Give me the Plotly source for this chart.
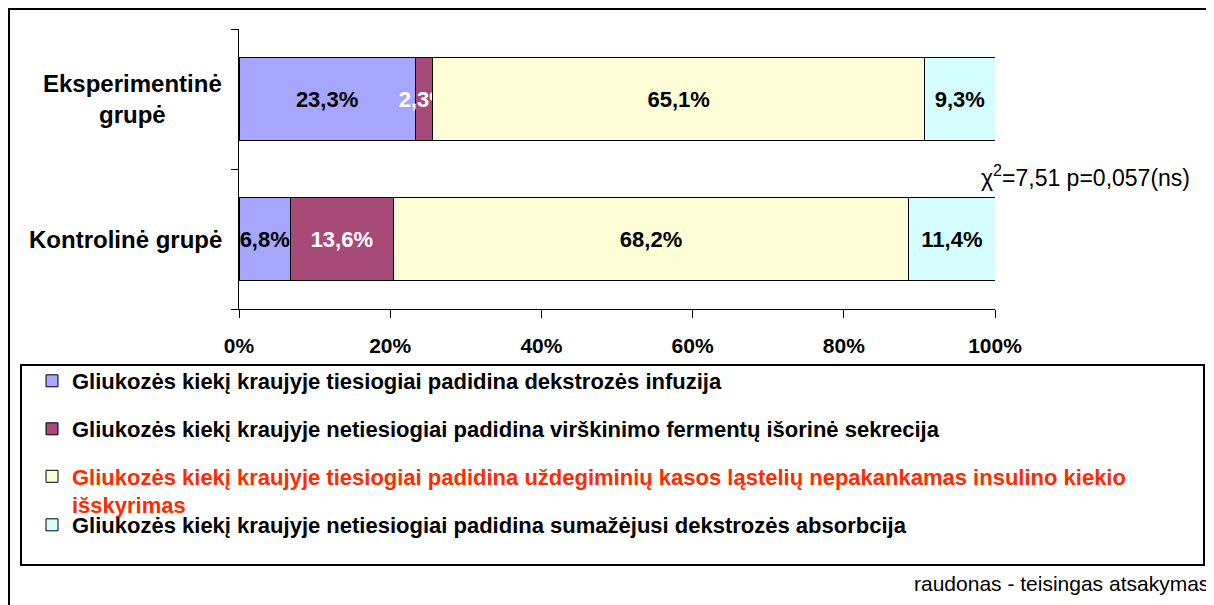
import plotly.graph_objects as go

categories = ["Kontrolinė grupė", "Eksperimentinė grupė"]
category_labels = ["Kontrolinė grupė", "Eksperimentinė<br>grupė"]

series_names = [
    "Gliukozės kiekį kraujyje tiesiogiai padidina dekstrozės infuzija",
    "Gliukozės kiekį kraujyje netiesiogiai padidina virškinimo fermentų išorinė sekrecija",
    "Gliukozės kiekį kraujyje tiesiogiai padidina uždegiminių kasos ląstelių nepakankamas insulino kiekio<br>išskyrimas",
    "Gliukozės kiekį kraujyje netiesiogiai padidina sumažėjusi dekstrozės absorbcija",
]
# values per series: [Kontrolinė, Eksperimentinė]
s1 = [6.8, 23.3]
s2 = [13.6, 2.3]
s3 = [68.2, 65.1]
s4 = [11.4, 9.3]
series_values = [s1, s2, s3, s4]

tick_vals = [0, 20, 40, 60, 80, 100]
tick_text = ["0%", "20%", "40%", "60%", "80%", "100%"]

colors = ["#A6A6FF", "#A84A77", "#FFFDD5", "#D5FFFF"]
text_colors = ["black", "white", "black", "black"]
legend_text_colors = ["black", "black", "#FF2A00", "black"]

ARIAL = "Liberation Sans, Arial, sans-serif"

# page has an 8px body margin; figure sized to fit the window
OFF = 8
W, H = 1214 - OFF, 605 - OFF
L, R, T, B = 239 - OFF, 219, 29 - OFF, 296
PW = W - L - R
PH = H - T - B


def px_x(p):
    """page pixel x -> paper x"""
    return (p - OFF - L) / PW


def px_y(p):
    """page pixel y -> paper y"""
    return (H - B - (p - OFF)) / PH


fig = go.Figure()
legend_keys = ["legend", "legend2", "legend3", "legend4"]
for i, (name, vals) in enumerate(zip(series_names, series_values)):
    fig.add_trace(go.Bar(
        y=categories, x=vals, orientation="h", name=name,
        marker=dict(color=colors[i], line=dict(color="black", width=1)),
        text=[f"{v:.1f}".replace(".", ",") + "%" for v in vals],
        textposition="inside", insidetextanchor="middle",
        textangle=0, constraintext="none",
        textfont=dict(family=ARIAL, size=22, color=text_colors[i], weight="bold"),
        legend=legend_keys[i], hoverinfo="skip",
    ))

legend_centers = [381, 429, 491, 525]
legend_common = dict(
    x=px_x(32), xanchor="left", yanchor="middle",
    bgcolor="rgba(0,0,0,0)", borderwidth=0, valign="top",
)
layout_legends = {}
for i, key in enumerate(legend_keys):
    layout_legends[key] = dict(
        y=px_y(legend_centers[i]),
        font=dict(family=ARIAL, size=22, color=legend_text_colors[i], weight="bold"),
        **legend_common,
    )

fig.update_layout(
    width=W, height=H,
    margin=dict(l=L, r=R, t=T, b=B, pad=0),
    paper_bgcolor="white", plot_bgcolor="white",
    barmode="stack", bargap=0.41,
    showlegend=True,
    xaxis=dict(
        range=[0, 100], tickvals=tick_vals, ticktext=tick_text,
        showgrid=False, zeroline=False, showline=True, linecolor="black", linewidth=1,
        ticks="outside", ticklen=8, tickcolor="black", tickwidth=1,
        tickfont=dict(family=ARIAL, size=21, color="black", weight="bold"),
        ticklabelstandoff=10,
    ),
    yaxis=dict(
        type="category", categoryorder="array", categoryarray=categories,
        range=[-0.5, 1.5], showgrid=False, zeroline=False,
        showline=True, linecolor="black", linewidth=1,
        ticks="outside", ticklen=7, tickcolor="black", tickwidth=1,
        tickson="boundaries", showticklabels=False,
    ),
    **layout_legends,
)

# category labels
for cat, lab in zip(categories, category_labels):
    fig.add_annotation(
        x=px_x(224), xref="paper", y=cat, yref="y", text=lab,
        xanchor="right", yanchor="middle", align="center", showarrow=False,
        font=dict(family=ARIAL, size=24, color="black", weight="bold"),
    )

fig.add_annotation(
    x=px_x(1192), xref="paper", y=px_y(176), yref="paper",
    text="χ<sup>2</sup>=7,51 p=0,057(ns)", xanchor="right", yanchor="middle",
    showarrow=False, font=dict(family=ARIAL, size=23, color="black"),
)
fig.add_annotation(
    x=px_x(1211), xref="paper", y=px_y(583), yref="paper",
    text="raudonas - teisingas atsakymas", xanchor="right", yanchor="middle",
    showarrow=False, font=dict(family=ARIAL, size=21, color="black"),
)

# legend box
fig.add_shape(type="rect", xref="paper", yref="paper",
              x0=px_x(21), x1=px_x(1204), y0=px_y(565), y1=px_y(365),
              line=dict(color="black", width=2), fillcolor="rgba(0,0,0,0)", layer="below")
# outer frame
fig.add_shape(type="rect", xref="paper", yref="paper",
              x0=px_x(9), x1=px_x(1240), y0=px_y(640), y1=px_y(9),
              line=dict(color="black", width=2), fillcolor="rgba(0,0,0,0)", layer="below")

fig.write_html("out.html")
